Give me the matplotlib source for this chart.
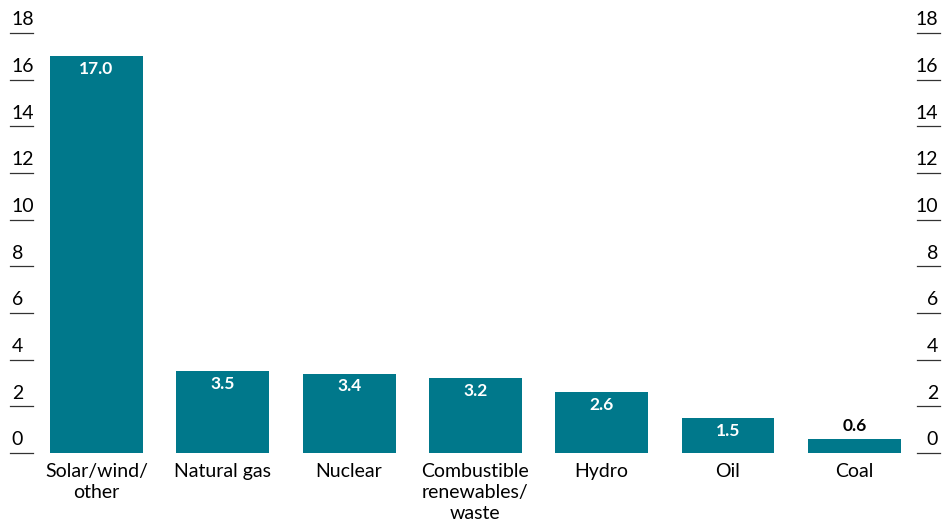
import numpy as np
import matplotlib.pyplot as plt

# Share of growth by source, per cent
categories = ["Solar/wind/\nother", "Natural gas", "Nuclear",
              "Combustible\nrenewables/\nwaste", "Hydro", "Oil", "Coal"]
values = [17.0, 3.5, 3.4, 3.2, 2.6, 1.5, 0.6]
y_ticks = [0, 2, 4, 6, 8, 10, 12, 14, 16, 18]

bar_color = "#00788b"
font = "Lato"

fig = plt.figure(figsize=(9.42, 5.22), dpi=100)
ax = fig.add_axes([10 / 942, 1 - 453 / 522, 930 / 942, 420 / 522])

x = np.arange(len(categories))
ax.bar(x, values, width=0.736, color=bar_color, zorder=2)
ax.set_xlim(-0.685, -0.685 + 930 / 126.3)
ax.set_ylim(0, 18)

# value labels: inside the bar in white, above it when the bar is too short
for xi, v in zip(x, values):
    if v >= 1.2:
        ax.text(xi, v - 0.2, f"{v:.1f}", ha="center", va="top",
                color="white", fontsize=12.5, fontweight="bold", family=font)
    else:
        ax.text(xi, v + 0.2, f"{v:.1f}", ha="center", va="bottom",
                color="black", fontsize=12.5, fontweight="bold", family=font)

# short tick rules with numbers sitting on them, on both sides
tick_len = 23 / 930
ytr = ax.get_yaxis_transform()
for t in y_ticks:
    ax.plot([0, tick_len], [t, t], color="#333333", lw=0.9, transform=ytr, clip_on=False)
    ax.plot([1 - tick_len, 1], [t, t], color="#333333", lw=0.9, transform=ytr, clip_on=False)
    ax.text(0.002, t + 0.2, str(t), ha="left", va="bottom", fontsize=14,
            family=font, transform=ytr)
    ax.text(0.998, t + 0.2, str(t), ha="right", va="bottom", fontsize=14,
            family=font, transform=ytr)

ax.set_xticks(x)
ax.set_xticklabels(categories, fontsize=14, family=font, linespacing=1.3)
ax.tick_params(axis="x", length=0, pad=7)
ax.set_yticks([])
for s in ax.spines.values():
    s.set_visible(False)

plt.savefig("out.png", dpi=100)
